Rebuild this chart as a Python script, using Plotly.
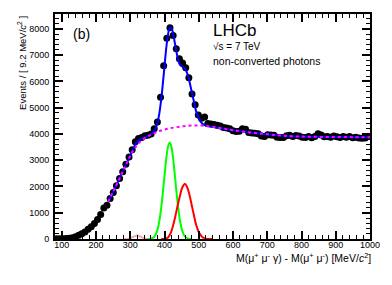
import plotly.graph_objects as go

# ---------------- data ----------------
bin_low = 80.0
bin_width = 9.2
events = [
    5, 8, 12, 18, 28, 50, 90, 140, 200, 270,
    370, 470, 590, 740, 930, 1180, 1290, 1540, 1770, 2030,
    2300, 2560, 2850, 3120, 3400, 3700, 3830, 3870, 3930, 3950,
    4000, 4200, 4460, 5400, 6600, 7650, 8050, 7750, 7250, 6870,
    6700, 6520, 6140, 5520, 5110, 4720, 4600, 4650, 4400, 4380,
    4360, 4330, 4300, 4250, 4230, 4200, 4120, 4090, 4100, 4200,
    4180, 4060, 4040, 4030, 4010, 3920, 3900, 3970, 3960, 3950,
    3880, 3870, 3870, 3930, 3950, 3900, 3940, 3920, 3880, 3870,
    3900, 3860, 3900, 4010, 3960, 3890, 3900, 3880, 3920, 3890,
    3870, 3900, 3880, 3900, 3860, 3880, 3850, 3840, 3850, 3900,
]
mass = [bin_low + bin_width * (k + 0.5) for k in range(len(events))]

# total fit (blue)
fit_m = [235, 250, 270, 290, 300, 310, 320, 330, 340, 350, 360, 370, 375, 380, 385,
         390, 395, 400, 405, 410, 415, 420, 425, 430, 435, 440, 445, 450, 455, 460,
         465, 470, 475, 480, 485, 490, 495, 500, 510, 520, 530, 550, 575, 600, 650,
         700, 750, 800, 850, 900, 950, 1000]
fit_v = [1420, 1800, 2350, 2905, 3182, 3492, 3710, 3812, 3852, 3905, 3984, 4119, 4255, 4468, 4810,
         5298, 5915, 6610, 7277, 7775, 8045, 8040, 7822, 7465, 7105, 6818, 6635, 6578, 6532, 6492,
         6346, 6149, 5868, 5570, 5273, 4975, 4755, 4583, 4400, 4320, 4290, 4250, 4200, 4145, 4060,
         3990, 3930, 3900, 3890, 3885, 3880, 3880]

# background (magenta dotted)
bkg_m = [235, 250, 270, 290, 310, 330, 350, 370, 390, 410, 430, 450, 470, 490, 510,
         530, 550, 575, 600, 650, 700, 750, 800, 850, 900, 950, 1000]
bkg_v = [1420, 1800, 2350, 2900, 3400, 3720, 3900, 4030, 4130, 4200, 4250, 4290, 4315, 4325, 4320,
         4290, 4250, 4200, 4145, 4060, 3990, 3930, 3900, 3890, 3885, 3880, 3880]

# signal component 1 (green)
sig1_m = [350, 360, 370, 375, 380, 385, 390, 395, 400, 405, 410, 415, 420, 425, 430,
          435, 440, 445, 450, 455, 460, 465, 470, 480]
sig1_v = [0, 14, 89, 195, 388, 705, 1168, 1765, 2435, 3062, 3515, 3680, 3515, 3062, 2435,
          1765, 1168, 705, 388, 195, 89, 37, 14, 0]

# signal component 2 (red)
sig2_m = [390, 400, 405, 410, 415, 420, 425, 430, 435, 440, 445, 450, 455, 460, 465,
          470, 475, 480, 485, 490, 495, 500, 510, 520, 530, 540]
sig2_v = [0, 10, 30, 60, 150, 300, 520, 780, 1080, 1380, 1650, 1900, 2040, 2100, 2000,
          1820, 1550, 1250, 950, 650, 430, 260, 80, 15, 0, 0]

# small component (light red)
sig3_m = [280, 290, 300, 310, 320, 330, 340, 350, 360]
sig3_v = [0, 5, 32, 92, 130, 92, 32, 5, 0]

x_ticks = [100, 200, 300, 400, 500, 600, 700, 800, 900, 1000]
y_ticks = [0, 1000, 2000, 3000, 4000, 5000, 6000, 7000, 8000]

# ---------------- figure ----------------
FONT = "Liberation Sans, Arial, Helvetica, sans-serif"

fig = go.Figure()
fig.add_trace(go.Scatter(x=mass, y=events, mode="markers",
                         marker=dict(color="black", size=7), hoverinfo="skip"))
fig.add_trace(go.Scatter(x=fit_m, y=fit_v, mode="lines", line=dict(color="#0000ff", width=2, shape="spline")))
fig.add_trace(go.Scatter(x=bkg_m, y=bkg_v, mode="lines",
                         line=dict(color="#ff00ff", width=2, dash="dot", shape="spline")))
fig.add_trace(go.Scatter(x=sig3_m, y=sig3_v, mode="lines", line=dict(color="#f8a8a8", width=2, shape="spline")))
fig.add_trace(go.Scatter(x=sig1_m, y=sig1_v, mode="lines", line=dict(color="#00ff00", width=2, shape="spline")))
fig.add_trace(go.Scatter(x=sig2_m, y=sig2_v, mode="lines", line=dict(color="#ff0000", width=2, shape="spline")))

axis_common = dict(
    showline=True, linecolor="black", linewidth=2, mirror="allticks",
    ticks="inside", tickcolor="black", tickwidth=1.5, ticklen=8,
    showgrid=False, zeroline=False,
    tickfont=dict(family=FONT, size=9, color="black"),
)

fig.update_xaxes(range=[80, 1000], tickvals=x_ticks, ticktext=[str(v) for v in x_ticks],
                 minor=dict(dtick=20, tick0=0, ticks="inside", ticklen=4, tickwidth=1, tickcolor="black"),
                 ticklabelstandoff=-4, **axis_common)
fig.update_yaxes(range=[0, 8570], tickvals=y_ticks, ticktext=[str(v) for v in y_ticks],
                 minor=dict(dtick=200, tick0=0, ticks="inside", ticklen=4, tickwidth=1, tickcolor="black"),
                 ticklabelstandoff=2, **axis_common)

annotations = [
    dict(text="M(μ<sup>+</sup> μ<sup>-</sup> γ) - M(μ<sup>+</sup> μ<sup>-</sup>) [MeV/<i>c</i><sup>2</sup>]",
         xref="paper", yref="paper", x=1.01, y=-0.08, xanchor="right", yanchor="middle",
         showarrow=False, font=dict(family=FONT, size=10.5, color="black")),
    dict(text="Events / [ 9.2 MeV/<i>c</i><sup>2</sup> ]", textangle=-90,
         xref="paper", yref="paper", x=-0.105, y=1.0, xanchor="center", yanchor="top",
         showarrow=False, font=dict(family=FONT, size=9.5, color="black")),
    dict(text="(b)", xref="paper", yref="paper", x=0.05, y=0.909, xanchor="left", yanchor="middle",
         showarrow=False, font=dict(family=FONT, size=14, color="black")),
    dict(text="LHCb", xref="paper", yref="paper", x=0.495, y=0.925, xanchor="left", yanchor="middle",
         showarrow=False, font=dict(family=FONT, size=17, color="black")),
    dict(text="√s = 7 TeV", xref="paper", yref="paper", x=0.495, y=0.855, xanchor="left", yanchor="middle",
         showarrow=False, font=dict(family=FONT, size=10, color="black")),
    dict(text="non-converted photons", xref="paper", yref="paper", x=0.495, y=0.79, xanchor="left",
         yanchor="middle", showarrow=False, font=dict(family=FONT, size=10.5, color="black")),
]

fig.update_layout(
    width=392, height=285,
    margin=dict(l=55, r=19, t=14, b=46),
    paper_bgcolor="white", plot_bgcolor="white",
    showlegend=False,
    annotations=annotations,
    font=dict(family=FONT, color="black"),
)

fig.write_html("out.html", config={"displayModeBar": False},
               post_script="document.body.style.margin='0px';document.body.style.padding='0px';")
